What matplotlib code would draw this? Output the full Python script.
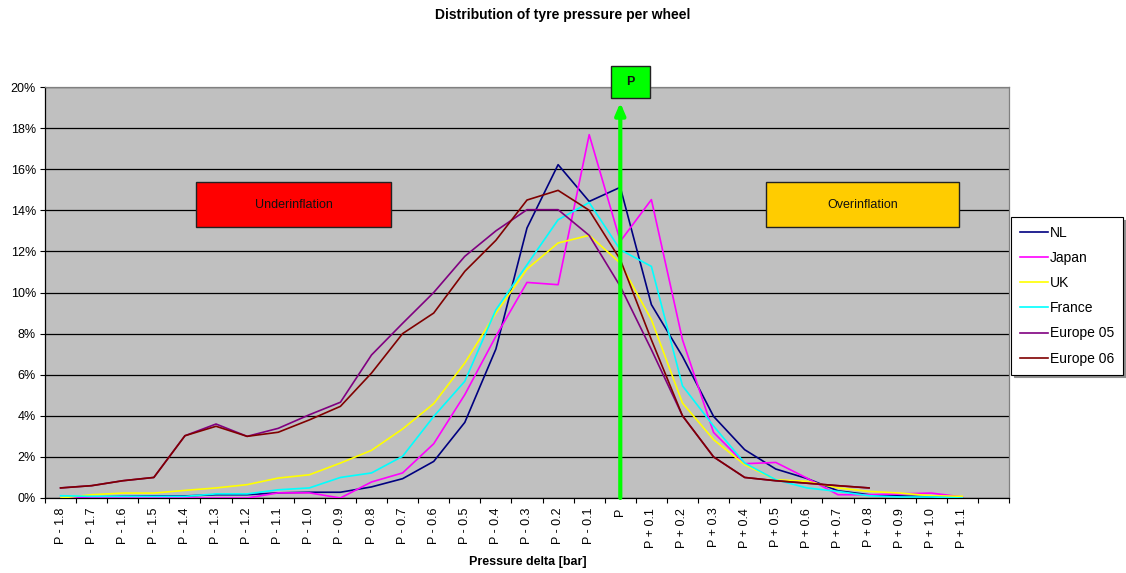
import numpy as np
import matplotlib
matplotlib.use("Agg")
import matplotlib.pyplot as plt
from matplotlib.patches import Rectangle
from matplotlib.ticker import FuncFormatter, FixedLocator

plt.rcParams['font.family'] = ['Liberation Sans', 'DejaVu Sans']

categories = (["P - 1.8", "P - 1.7", "P - 1.6", "P - 1.5", "P - 1.4", "P - 1.3", "P - 1.2",
               "P - 1.1", "P - 1.0", "P - 0.9", "P - 0.8", "P - 0.7", "P - 0.6", "P - 0.5",
               "P - 0.4", "P - 0.3", "P - 0.2", "P - 0.1", "P",
               "P + 0.1", "P + 0.2", "P + 0.3", "P + 0.4", "P + 0.5", "P + 0.6",
               "P + 0.7", "P + 0.8", "P + 0.9", "P + 1.0", "P + 1.1", ""])

nl = [0.0, 0.05, 0.08, 0.1, 0.1, 0.16, 0.16, 0.25, 0.28, 0.28, 0.54, 0.94, 1.78, 3.68,
      7.25, 13.14, 16.22, 14.43, 15.12, 9.41, 6.89, 3.97, 2.35, 1.41, 0.95, 0.35, 0.16,
      0.1, 0.05, 0.0]
japan = [0.0, 0.0, 0.0, 0.0, 0.0, 0.0, 0.0, 0.25, 0.25, 0.0, 0.78, 1.22, 2.64, 5.03,
         7.87, 10.49, 10.38, 17.68, 12.49, 14.52, 7.7, 3.19, 1.67, 1.73, 0.97, 0.16, 0.16,
         0.2, 0.24, 0.05]
uk = [0.0, 0.16, 0.24, 0.24, 0.37, 0.49, 0.65, 0.97, 1.13, 1.7, 2.32, 3.36, 4.59, 6.57,
      9.0, 11.14, 12.41, 12.78, 11.43, 8.68, 4.62, 2.84, 1.62, 0.89, 0.81, 0.49, 0.32,
      0.24, 0.11, 0.08]
france = [0.11, 0.08, 0.08, 0.08, 0.08, 0.2, 0.2, 0.4, 0.49, 1.0, 1.22, 2.03, 3.97, 5.68,
          9.16, 11.35, 13.54, 14.38, 12.08, 11.27, 5.46, 3.5, 1.7, 0.89, 0.49, 0.32, 0.11,
          0.05, 0.05, 0.0]
europe05 = [0.49, 0.6, 0.84, 1.0, 3.03, 3.6, 3.0, 3.39, 4.05, 4.66, 6.96, 8.5, 10.0, 11.76,
            13.0, 14.03, 14.03, 12.78, 10.3, 7.22, 4.0, 2.0, 1.0, 0.84, 0.72, 0.6, 0.49]
europe06 = [0.49, 0.6, 0.84, 1.0, 3.03, 3.49, 3.0, 3.2, 3.8, 4.46, 6.08, 8.0, 9.0, 11.03,
            12.54, 14.5, 14.97, 14.0, 11.6, 7.7, 4.0, 2.0, 1.0, 0.84, 0.72, 0.6, 0.49]

series_names = ["NL", "Japan", "UK", "France", "Europe 05", "Europe 06"]
series_values = [nl, japan, uk, france, europe05, europe06]
series_colors = ["#000080", "#FF00FF", "#FFFF00", "#00FFFF", "#800080", "#800000"]

W, H = 1126, 573
fig = plt.figure(figsize=(W / 100, H / 100), dpi=100)
fig.patch.set_facecolor("white")

def fx(px):
    return px / W

def fy(py):
    return 1 - py / H

ax = fig.add_axes([fx(45), fy(498), fx(1009) - fx(45), fy(87) - fy(498)])
ax.set_facecolor("#C0C0C0")

n = len(categories)
x = np.arange(n)
for name, vals, col in zip(series_names, series_values, series_colors):
    ax.plot(np.arange(len(vals)), vals, color=col, lw=1.2, label=name, zorder=3)

ax.set_xlim(-0.5, n - 0.5)
ax.set_ylim(0, 20)
ax.set_yticks(np.arange(0, 21, 2))
ax.yaxis.set_major_formatter(FuncFormatter(lambda v, p: f"{int(round(v))}%"))
ax.grid(axis="y", color="black", lw=0.9, zorder=1)
ax.set_axisbelow(True)

ax.set_xticks(x)
ax.set_xticklabels(categories, rotation=90, fontsize=9)
ax.xaxis.set_minor_locator(FixedLocator(np.arange(-0.5, n, 1.0)))
ax.tick_params(axis="x", which="major", length=0, pad=7)
ax.tick_params(axis="x", which="minor", length=3.5, width=0.8, direction="out")
ax.tick_params(axis="y", which="major", length=3.6, width=0.8, pad=3, labelsize=9)

for s in ["top", "right"]:
    ax.spines[s].set_color("#808080")
    ax.spines[s].set_linewidth(0.9)
for s in ["left", "bottom"]:
    ax.spines[s].set_color("black")
    ax.spines[s].set_linewidth(0.9)

# green reference arrow at P
p_idx = categories.index("P")
ax.annotate("", xy=(p_idx, 19.24), xytext=(p_idx, 0),
            arrowprops=dict(arrowstyle="-|>,head_width=0.3,head_length=0.7",
                            color="#00FF00", lw=3, shrinkA=0, shrinkB=0,
                            mutation_scale=10),
            zorder=5, annotation_clip=False)

# boxes
def fig_box(x0, y0, x1, y1, face, text, bold=False):
    fig.patches.append(Rectangle((fx(x0), fy(y1)), fx(x1) - fx(x0), fy(y0) - fy(y1),
                                 transform=fig.transFigure, facecolor=face,
                                 edgecolor="#222222", lw=1.0, zorder=7))
    fig.text(fx((x0 + x1) / 2), fy((y0 + y1) / 2), text, ha="center", va="center",
             fontsize=9, fontweight="bold" if bold else "normal", color="#111111", zorder=8)

fig_box(196, 182, 391, 227, "#FF0000", "Underinflation")
fig_box(766, 182, 959, 227, "#FFCC00", "Overinflation")
fig_box(611, 66, 650, 98, "#00FF00", "P", bold=True)

fig.text(fx(563), fy(15), "Distribution of tyre pressure per wheel", ha="center",
         va="center", fontsize=10, fontweight="bold")
fig.text(fx(528), fy(562), "Pressure delta [bar]", ha="center", va="center",
         fontsize=9, fontweight="bold")

handles, labels = ax.get_legend_handles_labels()
leg = fig.legend(handles, labels, loc="upper left", bbox_to_anchor=(fx(1011), fy(217)),
                 borderaxespad=0, fontsize=10, frameon=True, fancybox=False,
                 edgecolor="black", handlelength=2.0, handletextpad=0.15,
                 labelspacing=0.8, borderpad=0.65, shadow={"color": "#909090", "alpha": 1})
leg.get_frame().set_linewidth(0.8)

fig.savefig("out.png", dpi=100)
